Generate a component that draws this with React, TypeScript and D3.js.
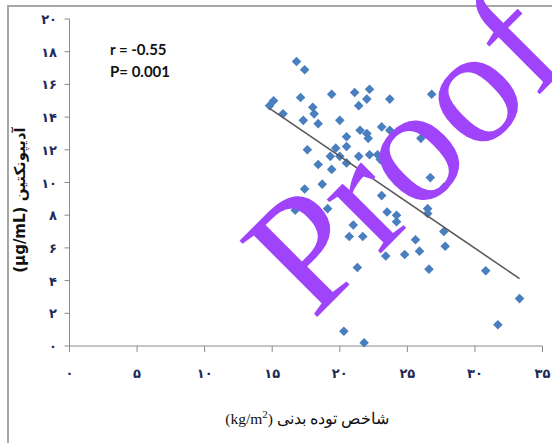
import React from 'react';
import * as d3 from 'd3';

// BMI (x) vs adiponectin (y)
const bmi = [
  16.8, 17.4, 14.8, 15.1, 15.8, 17.1, 19.4, 21.1, 22.2, 22.0, 21.4, 23.7, 18.0,
  18.1, 18.4, 17.3, 20.0, 21.5, 22.0, 22.1, 20.5, 20.5, 23.1, 23.7, 17.6, 19.7,
  19.3, 20.0, 20.5, 21.4, 22.2, 22.8, 23.0, 18.4, 19.4, 17.4, 18.7, 23.1, 26.8,
  26.0, 26.7, 27.7, 23.5, 24.2, 24.2, 26.5, 26.5, 27.7, 27.8, 25.6, 25.9, 24.8,
  23.4, 26.6, 30.8, 33.3, 31.7, 19.1, 16.7, 21.0, 20.7, 21.7, 21.3, 20.3, 21.8,
];
const adiponectin = [
  17.4, 16.9, 14.7, 15.0, 14.2, 15.2, 15.4, 15.5, 15.7, 15.1, 14.7, 15.1, 14.6,
  14.2, 13.6, 13.8, 13.8, 13.2, 13.0, 12.7, 12.8, 12.2, 13.4, 13.2, 12.0, 12.1,
  11.6, 11.6, 11.2, 11.6, 11.7, 11.7, 11.4, 11.1, 10.8, 9.6, 9.9, 9.2, 15.4,
  12.7, 10.3, 9.7, 8.2, 8.0, 7.6, 8.4, 8.1, 7.0, 6.1, 6.5, 5.8, 5.6,
  5.5, 4.7, 4.6, 2.9, 1.3, 8.4, 8.3, 7.4, 6.7, 6.7, 4.8, 0.9, 0.2,
];

// fitted line as drawn in the picture
const intercept = 22.87;
const slope = -0.563;

const xTicks = [0, 5, 10, 15, 20, 25, 30, 35];
const xTickLabels = ['۰', '۵', '۱۰', '۱۵', '۲۰', '۲۵', '۳۰', '۳۵'];
const yTicks = [0, 2, 4, 6, 8, 10, 12, 14, 16, 18, 20];
const yTickLabels = ['۰', '۲', '۴', '۶', '۸', '۱۰', '۱۲', '۱۴', '۱۶', '۱۸', '۲۰'];

const statLines = ['r = -0.55', 'P= 0.001'];

const width = 552, height = 443;
const axisColor = '#8a8a8a';
const tickColor = '#1d2a58';

const App = () => {
  const xScale = d3.scaleLinear().domain([0, 35]).range([69.5, 542.5]);
  const yScale = d3.scaleLinear().domain([0, 20]).range([346, 19]);

  const points = bmi.map((x, i) => ({ x, y: adiponectin[i] }));
  const [xMin, xMax] = d3.extent(bmi) as [number, number];
  const fit = d3.line<number>()
    .x(x => xScale(x))
    .y(x => yScale(intercept + slope * x));

  const diamond = d3.symbol().type(d3.symbolSquare).size(46)() as string;

  return <svg width={width} height={height}
    style={{ position: 'absolute', left: 0, top: 0, background: '#fff' }}>
    {/* frame */}
    <rect x={8} y={6} width={width + 20} height={height + 20}
      fill='none' stroke='#a6a6a6' strokeWidth={2} />

    {/* y axis */}
    <g>
      <line x1={xScale(0)} x2={xScale(0)} y1={yScale(20)} y2={yScale(0)} stroke={axisColor} />
      {yTicks.map((t, i) => <g key={t}>
        <line x1={xScale(0) - 5} x2={xScale(0)} y1={yScale(t)} y2={yScale(t)} stroke={axisColor} />
        <text x={57} y={yScale(t)} dy={5} textAnchor='end'
          fontFamily='DejaVu Sans' fontWeight='bold' fontSize={13} fill={tickColor}>
          {yTickLabels[i]}
        </text>
      </g>)}
    </g>

    {/* x axis */}
    <g>
      <line x1={xScale(0)} x2={xScale(35)} y1={yScale(0)} y2={yScale(0)} stroke={axisColor} />
      {xTicks.map((t, i) => <g key={t}>
        <line x1={xScale(t)} x2={xScale(t)} y1={yScale(0)} y2={yScale(0) + 6} stroke={axisColor} />
        <text x={xScale(t)} y={378} textAnchor='middle'
          fontFamily='DejaVu Sans' fontWeight='bold' fontSize={13} fill={tickColor}>
          {xTickLabels[i]}
        </text>
      </g>)}
    </g>

    {/* points */}
    <g>
      {points.map((p, i) => <path key={i} d={diamond}
        transform={`translate(${xScale(p.x)},${yScale(p.y)}) rotate(45)`}
        fill='#4a7fbf' />)}
    </g>

    {/* regression line */}
    <path d={fit([xMin, xMax]) as string} stroke='#5a5a5a' strokeWidth={1.6} fill='none' />

    {/* stats */}
    {statLines.map((s, i) => <text key={s} x={110} y={55 + i * 22}
      fontFamily='Lato' fontWeight='bold' fontSize={15} fill='#111'>{s}</text>)}

    {/* axis titles */}
    <text transform={`translate(25, 200) rotate(-90)`} textAnchor='middle'
      fontFamily='DejaVu Sans' fontWeight='bold' fontSize={15} fill='#111'>
      (µg/mL) آدیپونکتین
    </text>
    <text x={307} y={424} textAnchor='middle'
      fontFamily='Liberation Serif' fontSize={15.5} fill='#111'>
      (kg/m<tspan dy={-6} fontSize={11}>2</tspan><tspan dy={6}>) شاخص توده بدنی</tspan>
    </text>

    {/* watermark */}
    <text transform='translate(313, 321) rotate(-45)'
      fontFamily='Liberation Serif' fontSize={166} fill='#a044fb'>Proof</text>
  </svg>;
};

export default App;
